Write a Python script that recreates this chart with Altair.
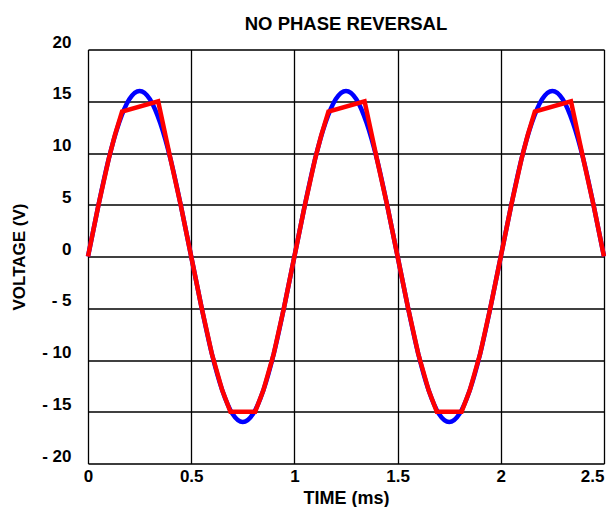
import altair as alt
import pandas as pd

# Blue trace: input sine (V) sampled every 0.05 ms
blue_t = [0.0, 0.05, 0.1, 0.15, 0.2, 0.25, 0.3, 0.35, 0.4, 0.45,
          0.5, 0.55, 0.6, 0.65, 0.7, 0.75, 0.8, 0.85, 0.9, 0.95,
          1.0, 1.05, 1.1, 1.15, 1.2, 1.25, 1.3, 1.35, 1.4, 1.45,
          1.5, 1.55, 1.6, 1.65, 1.7, 1.75, 1.8, 1.85, 1.9, 1.95,
          2.0, 2.05, 2.1, 2.15, 2.2, 2.25, 2.3, 2.35, 2.4, 2.45, 2.5]
blue_v = [0, 4.9, 9.4, 12.9, 15.2, 16.0, 15.2, 12.9, 9.4, 4.9,
          0, -4.9, -9.4, -12.9, -15.2, -16.0, -15.2, -12.9, -9.4, -4.9,
          0, 4.9, 9.4, 12.9, 15.2, 16.0, 15.2, 12.9, 9.4, 4.9,
          0, -4.9, -9.4, -12.9, -15.2, -16.0, -15.2, -12.9, -9.4, -4.9,
          0, 4.9, 9.4, 12.9, 15.2, 16.0, 15.2, 12.9, 9.4, 4.9, 0]

# Red trace: clipped output (V)
red_t = [0.0, 0.05, 0.1, 0.13, 0.165, 0.34, 0.4, 0.45, 0.5, 0.55, 0.6, 0.65, 0.69, 0.81, 0.85, 0.9, 0.95,
         1.0, 1.05, 1.1, 1.13, 1.165, 1.34, 1.4, 1.45, 1.5, 1.55, 1.6, 1.65, 1.69, 1.81, 1.85, 1.9, 1.95,
         2.0, 2.05, 2.1, 2.13, 2.165, 2.34, 2.4, 2.45, 2.5]
red_v = [0, 4.9, 9.4, 11.7, 14.0, 15.0, 9.4, 4.9, 0, -4.9, -9.4, -12.9, -15.0, -15.0, -12.9, -9.4, -4.9,
         0, 4.9, 9.4, 11.7, 14.0, 15.0, 9.4, 4.9, 0, -4.9, -9.4, -12.9, -15.0, -15.0, -12.9, -9.4, -4.9,
         0, 4.9, 9.4, 11.7, 14.0, 15.0, 9.4, 4.9, 0]

x_ticks = [0, 0.5, 1, 1.5, 2, 2.5]
y_ticks = [-20, -15, -10, -5, 0, 5, 10, 15, 20]

blue_df = pd.DataFrame({"t": blue_t, "v": blue_v})
red_df = pd.DataFrame({"t": red_t, "v": red_v})

FONT = "Liberation Sans"

x_enc = alt.X(
    "t:Q",
    scale=alt.Scale(domain=[0, 2.5], nice=False, zero=False),
    axis=alt.Axis(
        values=x_ticks, format="~g", title="TIME (ms)",
        grid=True, gridColor="black", gridWidth=1.3, gridOpacity=1,
        ticks=False, domain=False,
        labelFont=FONT, labelFontSize=17, labelFontWeight="bold", labelColor="black",
        labelPadding=5,
        labelAlign=alt.condition("datum.value == 2.5", alt.value("right"), alt.value("center")),
        titleFont=FONT, titleFontSize=18, titleFontWeight="bold", titleColor="black",
        titleY=39.5, titleBaseline="alphabetic",
    ),
)
y_enc = alt.Y(
    "v:Q",
    scale=alt.Scale(domain=[-20, 20], nice=False),
    axis=alt.Axis(
        values=y_ticks, title="VOLTAGE (V)",
        labelExpr="datum.value < 0 ? '- ' + abs(datum.value) : '' + datum.value",
        grid=True, gridColor="black", gridWidth=1.3, gridOpacity=1,
        ticks=False, domain=False,
        labelFont=FONT, labelFontSize=17, labelFontWeight="bold", labelColor="black",
        labelPadding=17, labelBaseline="alphabetic", labelOffset=-2.5,
        titleFont=FONT, titleFontSize=17, titleFontWeight="bold", titleColor="black",
        titleX=-69, titleY=207, titleAngle=270, titleBaseline="middle", titleAlign="center",
    ),
)

blue = alt.Chart(blue_df).mark_line(color="#0000FF", strokeWidth=4.5, interpolate="monotone").encode(x=x_enc, y=y_enc)
red = alt.Chart(red_df).mark_line(color="#FF0000", strokeWidth=4.5).encode(x=x_enc, y=y_enc)

chart = alt.layer(blue, red).properties(
    width=516, height=414,
    title=alt.TitleParams("NO PHASE REVERSAL", font=FONT, fontSize=18.5,
                          fontWeight="bold", color="black", anchor="middle", offset=0),
    autosize=alt.AutoSizeParams(type="none"),
    padding={"left": 80, "top": 41.5, "right": 2, "bottom": 43.5},
).configure_view(stroke="black", strokeWidth=2.5).configure(background="white")

chart.save("out.html", embed_options={"renderer": "svg", "actions": False})
